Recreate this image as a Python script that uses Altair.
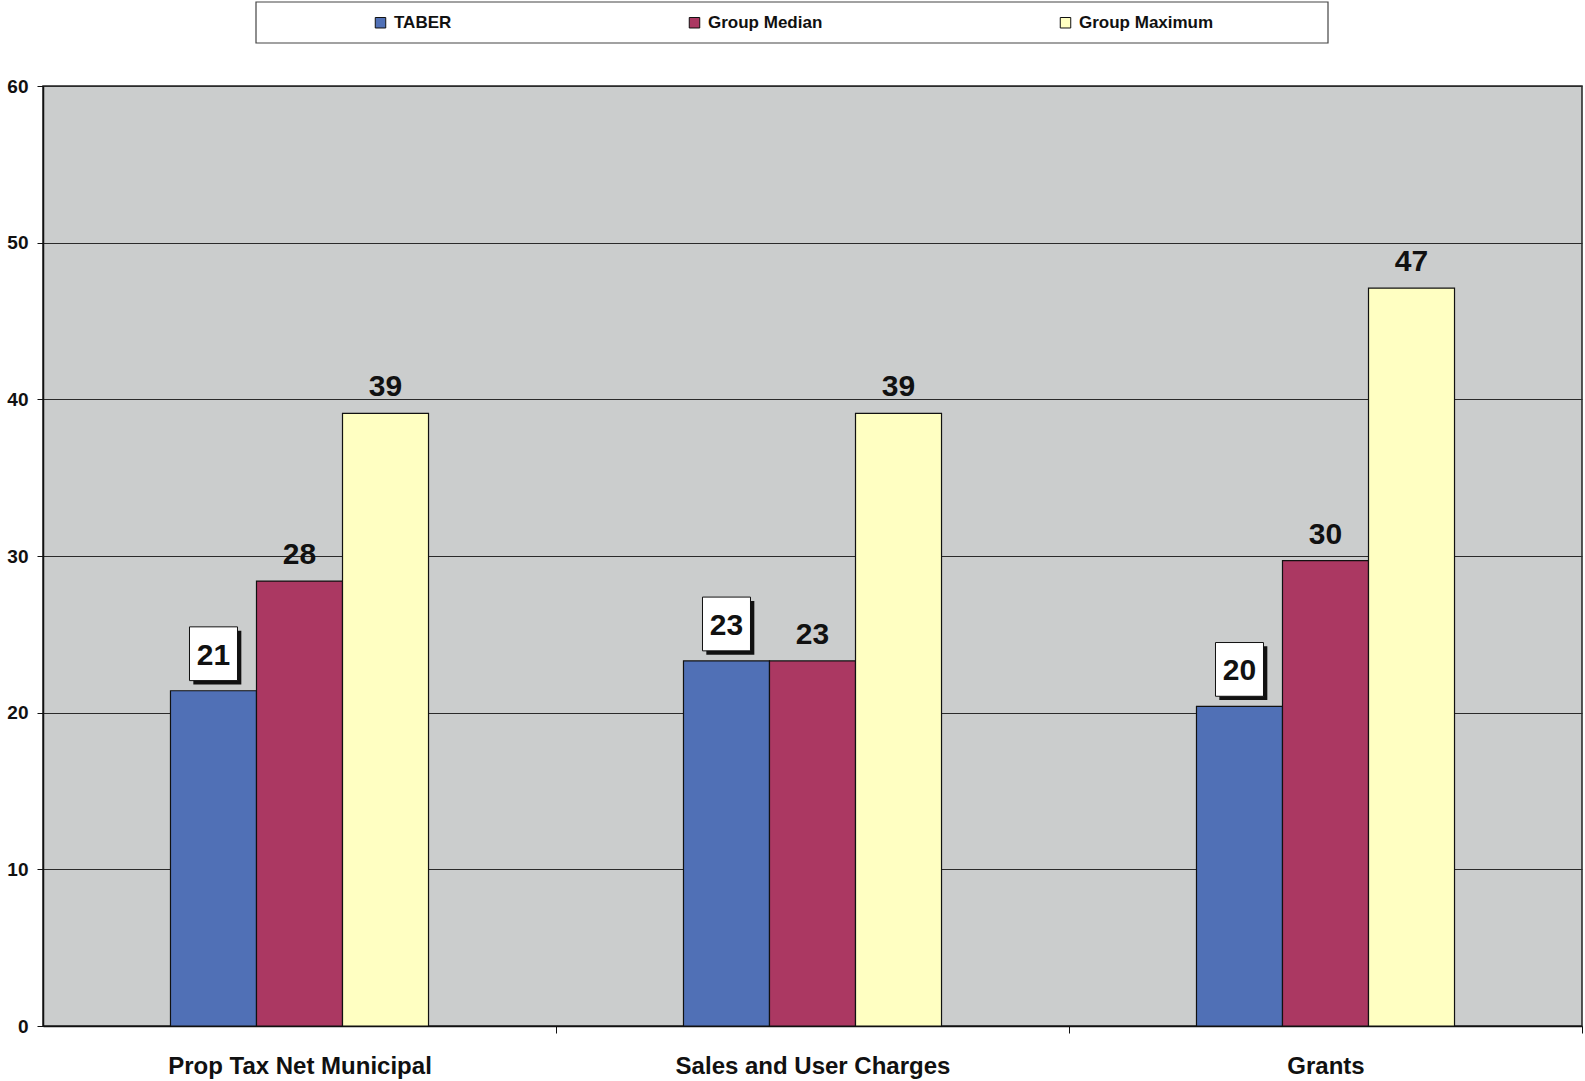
import altair as alt
import pandas as pd

categories = ["Prop Tax Net Municipal", "Sales and User Charges", "Grants"]
series = ["TABER", "Group Median", "Group Maximum"]
taber = [21.4, 23.3, 20.4]
group_median = [28.4, 23.3, 29.7]
group_maximum = [39.1, 39.1, 47.1]
colors = ["#5070b6", "#ab3862", "#ffffc2"]

rows = []
for i, cat in enumerate(categories):
    for name, vals in zip(series, [taber, group_median, group_maximum]):
        rows.append({"category": cat, "series": name, "value": vals[i]})
df = pd.DataFrame(rows)

FONT = "Liberation Sans"
W, H = 1539, 940
STEP = W / 3

x = alt.X("category:N", sort=categories,
          scale=alt.Scale(paddingInner=0.497, paddingOuter=0.2485),
          axis=alt.Axis(title=None, labelAngle=0, labelFont=FONT, labelFontSize=24,
                        labelFontWeight="bold", labelColor="#111", labelPadding=21,
                        labelLimit=600,
                        tickOffset=STEP / 2, labelOffset=-STEP / 2,
                        tickSize=7, tickColor="#111",
                        domainColor="#111", domainWidth=1.5, grid=False))
xo = alt.XOffset("series:N", sort=series,
                 scale=alt.Scale(paddingInner=0, paddingOuter=0))
y = alt.Y("value:Q",
          scale=alt.Scale(domain=[0, 60], nice=False),
          axis=alt.Axis(title=None, values=[0, 10, 20, 30, 40, 50, 60],
                        labelFont=FONT, labelFontSize=19, labelFontWeight="bold",
                        labelColor="#111", labelPadding=9, tickSize=6, tickColor="#111",
                        domainColor="#111", domainWidth=1.5,
                        gridColor="#2a2a2a", gridWidth=1.2))
color = alt.Color("series:N", sort=series,
                  scale=alt.Scale(domain=series, range=colors),
                  legend=alt.Legend(title=None, orient="none", direction="horizontal",
                                    legendX=329, legendY=-72, symbolType="square",
                                    symbolSize=110, symbolStrokeColor="#111",
                                    symbolStrokeWidth=1, labelFont=FONT,
                                    labelFontSize=17, labelFontWeight="bold",
                                    labelColor="#111", labelOffset=5,
                                    columnPadding=234, padding=0))

base = alt.Chart(df)

bars = base.mark_bar(stroke="#111", strokeWidth=1.2).encode(
    x=x, xOffset=xo, y=y, color=color)

taber_df = base.transform_filter(alt.datum.series == "TABER")
others_df = base.transform_filter(alt.datum.series != "TABER")

# value boxes for the TABER series, with a drop shadow to the lower right
box_shape = "M-1,-1.12L1,-1.12L1,1.12L-1,1.12Z"
shadow_shape = "M-0.84,-0.96L1.16,-0.96L1.16,1.28L-0.84,1.28Z"
shadow = taber_df.mark_point(shape=shadow_shape, size=2304, filled=True, fill="#111",
                             opacity=1, yOffset=-37).encode(
    x=x, xOffset=xo, y=y)
box = taber_df.mark_point(shape=box_shape, size=2304, filled=True, fill="white",
                          stroke="#111", strokeWidth=1, opacity=1,
                          yOffset=-37).encode(x=x, xOffset=xo, y=y)

taber_labels = taber_df.mark_text(font=FONT, fontSize=30, fontWeight="bold",
                                  color="#111", baseline="middle", dy=-35).encode(
    x=x, xOffset=xo, y=y, text=alt.Text("value:Q", format=".0f"))
other_labels = others_df.mark_text(font=FONT, fontSize=30, fontWeight="bold",
                                   color="#111", baseline="alphabetic", dy=-17).encode(
    x=x, xOffset=xo, y=y, text=alt.Text("value:Q", format=".0f"))

legend_frame = alt.Chart(alt.Data(values=[{}])).mark_rect(
    fill="white", stroke="#444", strokeWidth=1.2).encode(
    x=alt.value(213), x2=alt.value(1285), y=alt.value(-84), y2=alt.value(-43))

chart = alt.layer(legend_frame, bars, shadow, box, taber_labels, other_labels).properties(
    width=W, height=H,
    padding={"left": 43, "top": 86, "right": 3, "bottom": 55},
    autosize=alt.AutoSizeParams(type="none"),
    background="white",
).configure_view(fill="#cbcdcd", stroke="#222", strokeWidth=1.5)

chart.save("out.html", embed_options={"renderer": "svg", "actions": False})
